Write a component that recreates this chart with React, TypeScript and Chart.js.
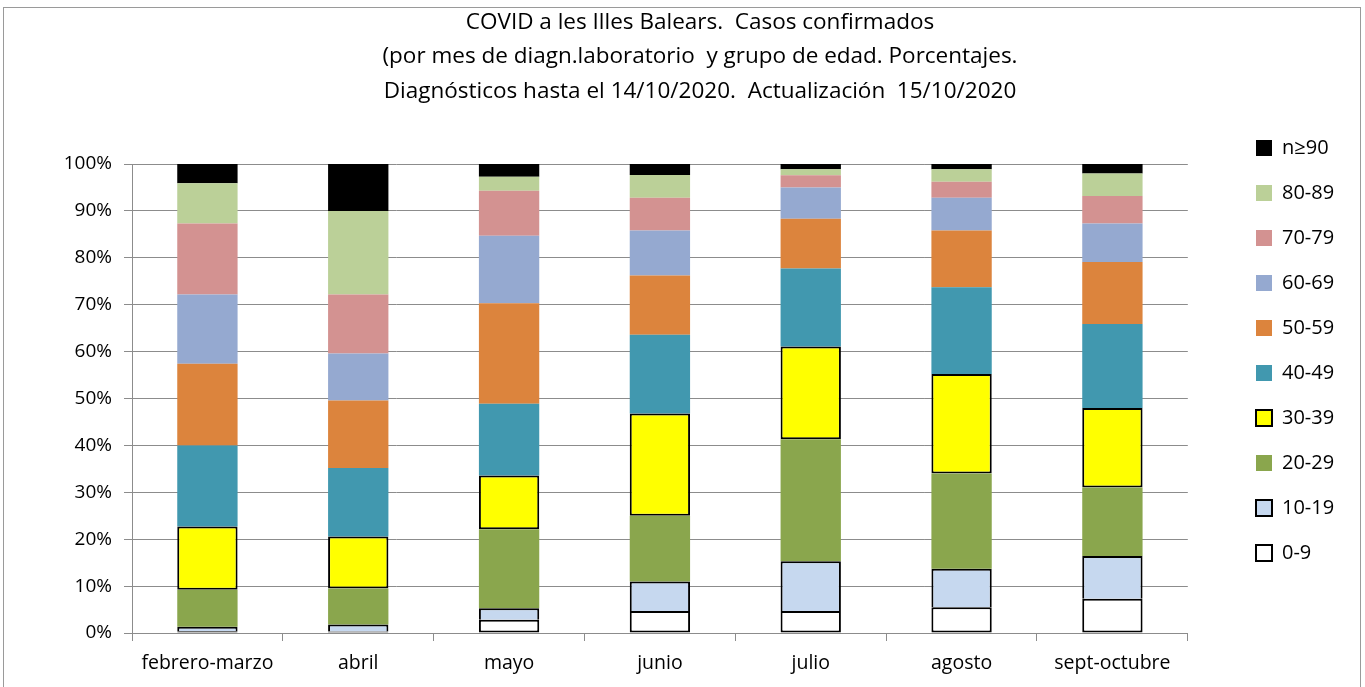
import React, { useEffect, useRef } from "react";
import { Chart, registerables } from "chart.js";

Chart.register(...registerables);

const months = ["febrero-marzo", "abril", "mayo", "junio", "julio", "agosto", "sept-octubre"];
const titleLines = [
  "COVID a les Illes Balears.  Casos confirmados",
  "(por mes de diagn.laboratorio  y grupo de edad. Porcentajes.",
  "Diagnósticos hasta el 14/10/2020.  Actualización  15/10/2020",
];

const age0_9 = [0.35, 0.3, 2.8, 4.7, 4.7, 5.5, 7.3];
const age10_19 = [1.0, 1.5, 2.5, 6.3, 10.6, 8.2, 9.1];
const age20_29 = [7.85, 7.7, 16.8, 14.0, 26.0, 20.3, 14.6];
const age30_39 = [13.5, 11.1, 11.5, 21.8, 19.8, 21.2, 17.0];
const age40_49 = [17.3, 14.6, 15.3, 16.8, 16.6, 18.5, 17.9];
const age50_59 = [17.4, 14.4, 21.4, 12.6, 10.6, 12.1, 13.2];
const age60_69 = [14.8, 10.0, 14.4, 9.6, 6.7, 7.0, 8.2];
const age70_79 = [15.1, 12.6, 9.6, 7.0, 2.6, 3.4, 5.9];
const age80_89 = [8.6, 17.8, 3.0, 4.85, 1.3, 2.7, 4.8];
const age90 = [4.1, 10.0, 2.7, 2.35, 1.1, 1.1, 2.0];

const seriesLabels = ["0-9", "10-19", "20-29", "30-39", "40-49", "50-59", "60-69", "70-79", "80-89", "n≥90"];
const seriesData = [age0_9, age10_19, age20_29, age30_39, age40_49, age50_59, age60_69, age70_79, age80_89, age90];
const seriesColors = ["#FFFFFF", "#C6D8EF", "#8AA64D", "#FFFF00", "#4198AF", "#DC843D", "#95A9D0", "#D39291", "#BBD098", "#000000"];
const outlined = [true, true, false, true, false, false, false, false, false, false];
const skipEdge: (string | boolean)[] = [false, "start", false, false, false, false, false, false, false, false];

const FONT = "'Open Sans', 'Noto Sans', sans-serif";
const LEGEND_BOX_X = 1256;
const LEGEND_FIRST_TOP = 138;
const TITLE_CENTER_X = 700;

const framePlugin = {
  id: "frame",
  beforeDraw(chart: any) {
    const ctx = chart.ctx;
    ctx.save();
    ctx.strokeStyle = "#9a9a9a";
    ctx.lineWidth = 1;
    ctx.strokeRect(3.5, 7.5, 1357, 700);
    ctx.restore();
  },
};

const placer = {
  id: "placer",
  afterLayout(chart: any) {
    const lg = chart.legend;
    if (lg) {
      const pad = lg.options.labels.padding;
      const w = lg.width;
      const h = lg.height;
      lg.left = LEGEND_BOX_X - pad;
      lg.right = lg.left + w;
      lg.top = LEGEND_FIRST_TOP - pad;
      lg.bottom = lg.top + h;
    }
    const tb = chart.titleBlock;
    if (tb) {
      const dx = TITLE_CENTER_X - (tb.left + tb.right) / 2;
      tb.left += dx;
      tb.right += dx;
    }
  },
};

export default function App() {
  const ref = useRef<HTMLCanvasElement | null>(null);
  useEffect(() => {
    if (!ref.current) return;
    const chart = new Chart(ref.current, {
      type: "bar",
      data: {
        labels: months,
        datasets: seriesLabels.map((label, i) => ({
          label,
          data: seriesData[i],
          backgroundColor: seriesColors[i],
          borderColor: outlined[i] ? "#000000" : seriesColors[i],
          borderWidth: outlined[i] ? 2 : 0,
          borderSkipped: skipEdge[i] as any,
          barPercentage: 0.4,
          categoryPercentage: 1,
        })),
      },
      options: {
        responsive: false,
        animation: false,
        layout: { padding: { top: 5, left: 50, right: 64, bottom: 4 } },
        plugins: {
          tooltip: { enabled: false },
          title: {
            display: true,
            text: titleLines,
            color: "#000",
            font: { family: FONT, size: 22.5, weight: "normal", lineHeight: "34.5px" },
            padding: { top: 0, bottom: 55.5 },
          },
          legend: {
            position: "right",
            align: "start",
            reverse: true,
            labels: {
              color: "#000",
              font: { family: FONT, size: 20 },
              boxWidth: 16,
              boxHeight: 16,
              padding: 25,
            },
          },
        },
        scales: {
          x: {
            stacked: true,
            afterFit: (s: any) => {
              s.height = 50;
            },
            grid: {
              offset: true,
              drawOnChartArea: false,
              drawTicks: true,
              tickLength: 8,
              color: "#8c8c8c",
            },
            border: { color: "#8c8c8c", width: 1 },
            ticks: { color: "#000", font: { family: FONT, size: 19.5 }, padding: 11, maxRotation: 0 },
          },
          y: {
            stacked: true,
            min: 0,
            max: 100,
            afterFit: (s: any) => {
              s.width = 82;
            },
            grid: { color: "#8c8c8c", tickLength: 8, drawTicks: true },
            border: { color: "#8c8c8c", width: 1 },
            ticks: {
              stepSize: 10,
              color: "#000",
              font: { family: FONT, size: 19 },
              padding: 12,
              callback: (v: any) => v + "%",
            },
          },
        },
      },
      plugins: [framePlugin, placer],
    });
    return () => chart.destroy();
  }, []);
  return (
    <div style={{ position: "absolute", left: 0, top: 0, width: 1365, height: 687 }}>
      <canvas ref={ref} width={1365} height={687} style={{ width: 1365, height: 687, display: "block" }} />
    </div>
  );
}
